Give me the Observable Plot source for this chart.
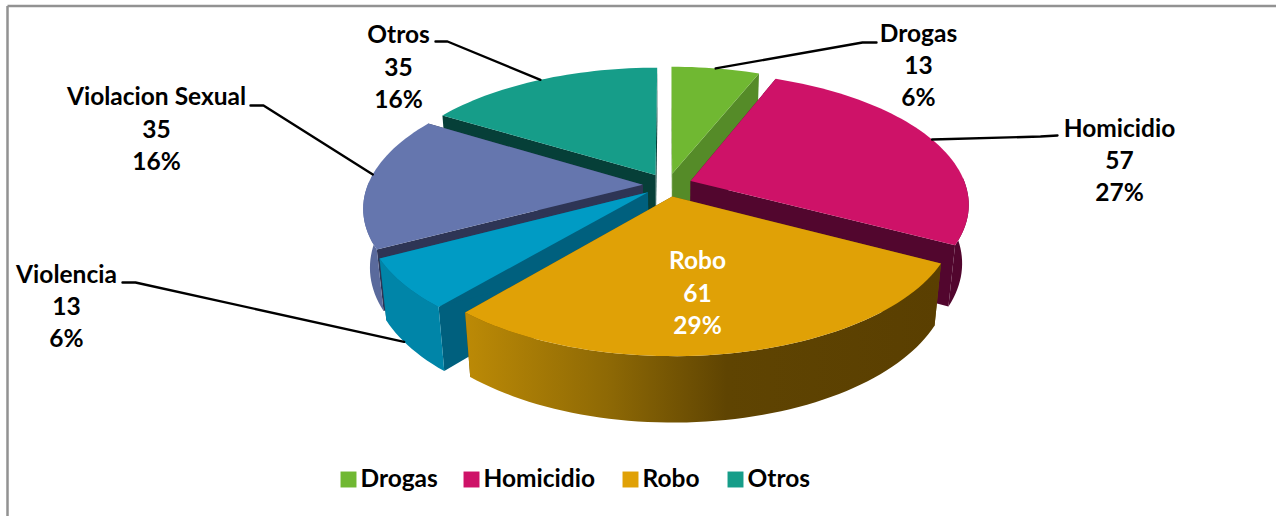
<!DOCTYPE html>
<html><head><meta charset="utf-8">
<script src="https://cdn.jsdelivr.net/npm/d3@7"></script>
<script src="https://cdn.jsdelivr.net/npm/@observablehq/plot@0.6"></script>
<style>html,body{margin:0;padding:0;background:#fff;overflow:hidden}svg{display:block}</style>
</head><body><div id="chart"></div>
<script>
// data
const categories = ["Drogas","Homicidio","Robo","Violencia","Violacion Sexual","Otros"];
const values = [13,57,61,13,35,35];
const percents = ["6%","27%","29%","6%","16%","16%"];
const topColors = ["#70B832","#CE1268","#E0A106","#009BC4","#6576AE","#169D89"];
const innerColors = ["#558B28","#52062E","#6E4F03","#00607E","#2E3555","#063F38"];
const outerColors = ["#5E9A2A","#52062E","url(#roboWall)","#0085A8","#5A6A9C","#0F7566"];
const legendItems = ["Drogas","Homicidio","Robo","Otros"];
const drawOrder = ["Otros","Drogas","Homicidio","Violacion Sexual","Violencia","Robo"];

// projection of the tilted disc (layout constants)
const cx=667, cy=184.5, Rx=275, Ry=128.5, H=59.5, pY=0.168, pZ=0.022, explode=0.09;
const project=(X,Y,z)=>{const w=1+pY*Y+pZ*z; return [cx+Rx*X/w, cy+(H*z-Ry*Y)/w];};
const arcs=d3.pie().sort(null).value(d=>d)(values);
const slices=categories.map((name,i)=>{
  const a0=arcs[i].startAngle,a1=arcs[i].endAngle,m=(a0+a1)/2;
  const ox=explode*Math.sin(m),oy=explode*Math.cos(m);
  const n=Math.max(4,Math.round((a1-a0)/0.03));
  const rimT=d3.range(n+1).map(k=>a0+(a1-a0)*k/n);
  const at=t=>[ox+Math.sin(t),oy+Math.cos(t)];
  return {name,i,a0,a1,m,ox,oy,rim:rimT.map(at),front:rimT.filter(t=>Math.cos(t)<=0.05).map(at)};
});
const polys=[];
let pid=0;
const add=(pts,z,fill,group)=>{const id=pid++;
  pts.forEach((p,k)=>{const [x,y]=project(p[0],p[1],z[k]);polys.push({id,x,y,fill,group});});};
for(const name of drawOrder){
  const s=slices[categories.indexOf(name)];
  const apex=[s.ox,s.oy], r0=s.rim[0], r1=s.rim[s.rim.length-1], i=s.i;
  add([apex,r0,r0,apex],[0,0,1,1],innerColors[i],name);
  add([apex,r1,r1,apex],[0,0,1,1],innerColors[i],name);
  if(s.front.length>1){
    const back=[...s.front].reverse();
    add([...s.front,...back],[...s.front.map(()=>0),...back.map(()=>1)],outerColors[i],name);
  }
  add([apex,...s.rim],[0,...s.rim.map(()=>0)],topColors[i],name);
}
// paint order marks: one line mark per polygon keeps order and lets url() fills through
const ids=d3.groups(polys,d=>d.id);

// annotations
const labelPos={ // label centre x, first-line middle y
  "Drogas":[918,33.5],"Homicidio":[1119,128.5],"Robo":[697,261],"Violencia":[66,274.5],"Violacion Sexual":[156,97],"Otros":[398,35]};
const labels=categories.flatMap((c,i)=>[c,String(values[i]),percents[i]].map((t,k)=>({
  t,x:labelPos[c][0],y:labelPos[c][1]+k*32.3,fill:c==="Robo"?"#fff":"#000"})));
const leaderKnots={"Drogas":[[876,42],[862,42]],"Homicidio":[[1057,135],[1040,136]],
  "Violencia":[[122,282],[135,282]],"Violacion Sexual":[[250,105],[263,105]],"Otros":[[435,41],[447,41]]};
const leaderTip={"Drogas":[0.5,0],"Homicidio":[0.5,0],"Violencia":[0.6,1],"Violacion Sexual":[0.55,0],"Otros":[0.5,0]};
const leaders=Object.keys(leaderKnots).flatMap(c=>{
  const s=slices[categories.indexOf(c)],[f,z]=leaderTip[c],t=s.a0+(s.a1-s.a0)*f;
  const tip=project(s.ox+Math.sin(t),s.oy+Math.cos(t),z);
  return [...leaderKnots[c],tip].map(p=>({c,x:p[0],y:p[1]}));
});
const legendSw=[340,463,622,727];
const legend=legendItems.map((n,i)=>({n,x:legendSw[i],color:topColors[categories.indexOf(n)]}));

const defsMark=()=>{
  const defs=d3.create("svg:defs");
  const g=defs.append("linearGradient").attr("id","roboWall");
  [[0,"#BC8A06"],[0.3,"#8E6905"],[0.55,"#5F4402"],[1,"#5A3F01"]].forEach(([o,c])=>
    g.append("stop").attr("offset",o).attr("stop-color",c));
  return defs.node();
};
const font="Lato, Carlito, sans-serif";
const frame=[{x1:7,y1:5.5,x2:1276,y2:5.5},{x1:7,y1:5.5,x2:7,y2:516}];
const plot=Plot.plot({
  width:1276,height:516,margin:0,
  style:{background:"#fff"},
  x:{domain:[0,1276],axis:null},y:{domain:[516,0],axis:null},
  marks:[
    defsMark,
    Plot.link(frame,{x1:"x1",y1:"y1",x2:"x2",y2:"y2",stroke:"#929292",strokeWidth:2.5}),
    ...ids.map(([id,pts])=>Plot.line(pts,{x:"x",y:"y",fill:pts[0].fill,stroke:"none",curve:"linear"})),
    Plot.line(leaders,{x:"x",y:"y",z:"c",stroke:"#000",strokeWidth:2.4,fill:"none",curve:"linear"}),
    Plot.text(labels,{x:"x",y:"y",text:"t",fill:"fill",fontFamily:font,fontWeight:700,fontSize:24.5,textAnchor:"middle"}),
    Plot.dot(legend,{x:d=>d.x+8,y:()=>479,symbol:"square",r:9,fill:"color",stroke:"none"}),
    Plot.text(legend,{x:d=>d.x+20,y:()=>479,text:"n",textAnchor:"start",fontFamily:font,fontWeight:700,fontSize:24.5,fill:"#000"})
  ],
  color:{type:"identity"}
});
document.getElementById("chart").append(plot);
</script></body></html>
